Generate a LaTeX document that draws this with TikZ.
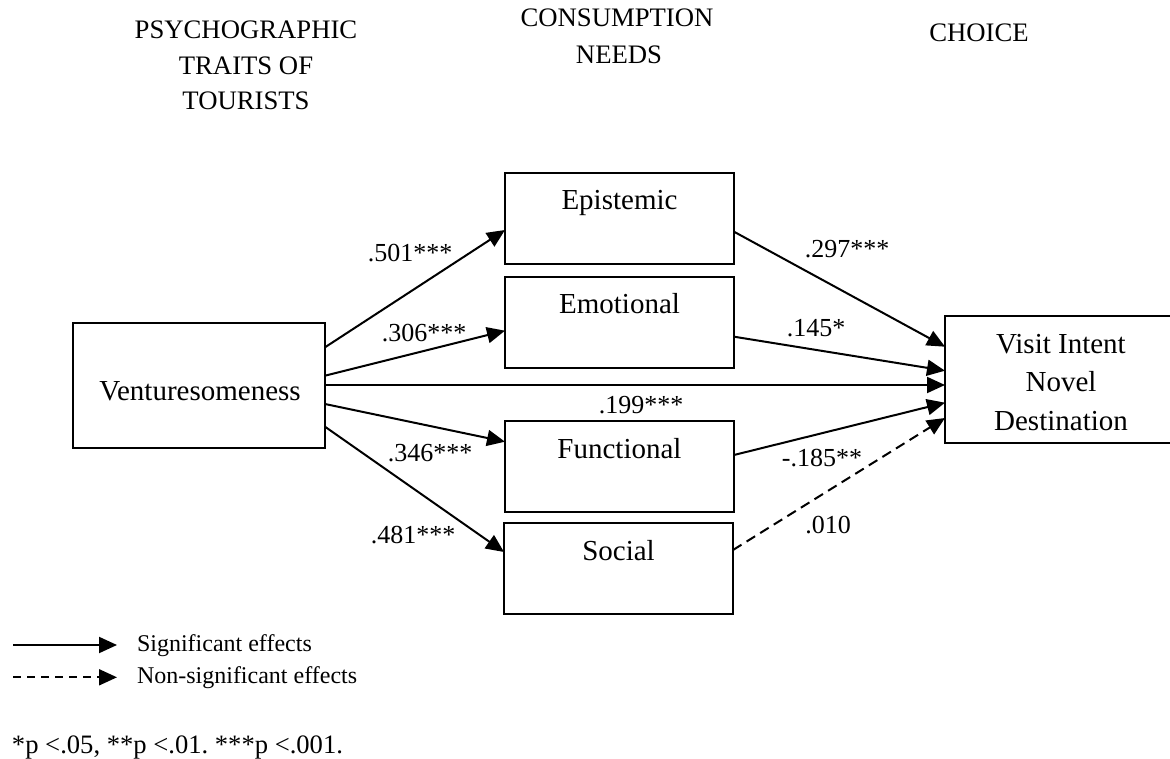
\documentclass[tikz,border=0pt]{standalone}
\usepackage{fontspec}
\setmainfont{Liberation Serif}
\usetikzlibrary{arrows.meta}
\frenchspacing

\begin{document}
\begin{tikzpicture}[x=1pt,y=-1pt,
  every node/.style={inner sep=0pt, outer sep=0pt},
  boxnode/.style={draw, line width=2.5pt, rectangle},
  boxtext/.style={font=\fontsize{29}{38.5}\selectfont, anchor=base},
  headtext/.style={font=\fontsize{26.7}{36.5}\selectfont, anchor=base},
  coef/.style={font=\fontsize{26}{30}\selectfont, anchor=base},
  legtext/.style={font=\fontsize{24}{28}\selectfont, anchor=base west},
  path/.style={line width=2pt, -{Triangle[length=18pt,width=16pt]}},
  nspath/.style={path, dash pattern=on 10pt off 6pt}
]
\useasboundingbox (0,0) rectangle (1170,759);

% column headings
\node[headtext] (h1a) at (246,38.3) {PSYCHOGRAPHIC};
\node[headtext] (h1b) at (246,75) {TRAITS OF};
\node[headtext] (h1c) at (246,110) {TOURISTS};
\node[headtext] (h2a) at (617,26.7) {CONSUMPTION};
\node[headtext] (h2b) at (619,63.3) {NEEDS};
\node[headtext] (h3a) at (979,41.7) {CHOICE};

% boxes
\node[boxnode, minimum width=252, minimum height=125] (ven) at (199,385.5) {};
\node[boxnode, minimum width=229, minimum height=91] (epi) at (619.5,218.5) {};
\node[boxnode, minimum width=229, minimum height=91] (emo) at (619.5,322.5) {};
\node[boxnode, minimum width=229, minimum height=91] (fun) at (619.5,466.5) {};
\node[boxnode, minimum width=229, minimum height=91] (soc) at (618.5,568.5) {};
\node[boxnode, minimum width=232, minimum height=127] (vis) at (1061,379.5) {};

% box labels
\node[boxtext] (tven) at (200,400) {Venturesomeness};
\node[boxtext] (tepi) at ([yshift=-37pt]epi.north) {Epistemic};
\node[boxtext] (temo) at ([yshift=-37pt]emo.north) {Emotional};
\node[boxtext] (tfun) at ([yshift=-37pt]fun.north) {Functional};
\node[boxtext] (tsoc) at ([yshift=-37pt]soc.north) {Social};
\node[boxtext] (tvis1) at (1061,353) {Visit Intent};
\node[boxtext] (tvis2) at (1061,391.7) {Novel};
\node[boxtext] (tvis3) at (1061,430) {Destination};

% paths from the trait
\draw[path] ([yshift=38.2pt]ven.east) -- ([yshift=-11.5pt]epi.west);
\draw[path] ([yshift=9.8pt]ven.east) -- ([yshift=-8.2pt]emo.west);
\draw[path] ([yshift=0.5pt]ven.east) -- ([yshift=-5.5pt]vis.west);
\draw[path] ([yshift=-18.5pt]ven.east) -- ([yshift=24.8pt]fun.west);
\draw[path] ([yshift=-41.2pt]ven.east) -- ([yshift=16.5pt]soc.west);

% paths from the needs
\draw[path] ([yshift=-13.2pt]epi.east) -- ([yshift=32.8pt]vis.west);
\draw[path] ([yshift=-14.2pt]emo.east) -- ([yshift=8.8pt]vis.west);
\draw[path] ([yshift=11.5pt]fun.east) -- ([yshift=-23.2pt]vis.west);
\draw[nspath] ([yshift=18.5pt]soc.east) -- ([yshift=-38.5pt]vis.west);

% coefficients
\node[coef] (c1) at (410,261.7) {.501***};
\node[coef] (c2) at (424,341.7) {.306***};
\node[coef] (c3) at (641,413) {.199***};
\node[coef] (c4) at (430,461.7) {.346***};
\node[coef] (c5) at (413,543.3) {.481***};
\node[coef] (c6) at (847,258) {.297***};
\node[coef] (c7) at (816,336.7) {.145*};
\node[coef] (c8) at (822,466.7) {-.185**};
\node[coef] (c9) at (828,533) {.010};

% legend
\coordinate (l1a) at (13,645);
\coordinate (l1b) at (117,645);
\coordinate (l2a) at (13,677.3);
\coordinate (l2b) at (117,677.3);
\draw[path] (l1a) -- (l1b);
\draw[path, dash pattern=on 8pt off 6pt] (l2a) -- (l2b);
\node[legtext] (lt1) at (137,651.7) {Significant effects};
\node[legtext] (lt2) at (137,683.3) {Non-significant effects};

% note
\node[font=\fontsize{26.6}{30}\selectfont, anchor=base west] (note) at (12,753.3) {*p <.05, **p <.01. ***p <.001.};
\end{tikzpicture}
\end{document}
